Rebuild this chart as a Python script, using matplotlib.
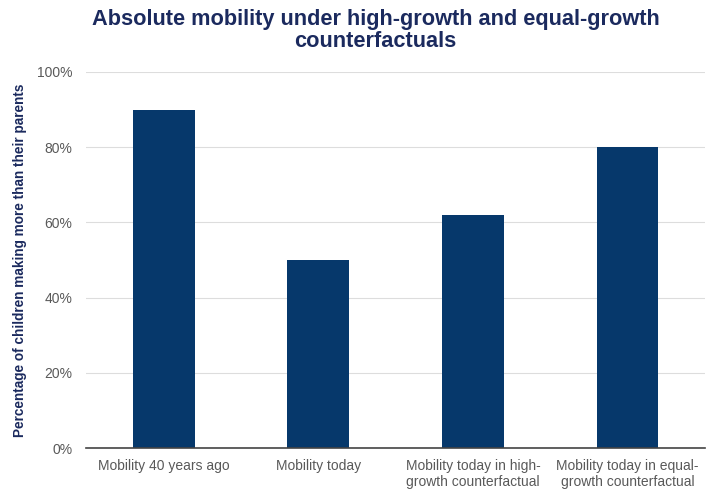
import matplotlib.pyplot as plt
from matplotlib.ticker import PercentFormatter

plt.rcParams['font.family'] = ['Liberation Sans', 'DejaVu Sans']

categories = ['Mobility 40 years ago', 'Mobility today',
              'Mobility today in high-\ngrowth counterfactual',
              'Mobility today in equal-\ngrowth counterfactual']
values = [90, 50, 62, 80]
yticks = [0, 20, 40, 60, 80, 100]

navy = '#1b2a5e'
bar_color = '#06386b'

fig = plt.figure(figsize=(7.07, 4.93), dpi=100)
ax = fig.add_axes([0.122, 0.091, 0.875, 0.763])

ax.bar(range(len(categories)), values, width=0.4, color=bar_color, zorder=3)

ax.set_xlim(-0.5, len(categories) - 0.5)
ax.set_ylim(0, 100)
ax.set_yticks(yticks)
ax.yaxis.set_major_formatter(PercentFormatter(decimals=0))
ax.set_xticks(range(len(categories)))
ax.set_xticklabels(categories)
ax.tick_params(axis='both', length=0, labelsize=10, colors='#595959')
ax.tick_params(axis='x', pad=8)
ax.tick_params(axis='y', pad=10)
ax.grid(axis='y', color='#dddddd', linewidth=0.8, zorder=0)

for side in ['top', 'right', 'left']:
    ax.spines[side].set_visible(False)
ax.spines['bottom'].set_color('#444444')
ax.spines['bottom'].set_linewidth(1.2)
ax.spines['bottom'].set_zorder(4)

ax.set_ylabel('Percentage of children making more than their parents',
              color=navy, fontsize=9.8, fontweight='bold', labelpad=7)

fig.suptitle('Absolute mobility under high-growth and equal-growth\ncounterfactuals',
             x=0.531, y=0.982, va='top', fontsize=15.7, fontweight='bold',
             color=navy, linespacing=1.1)

fig.savefig('out.png', dpi=100)
